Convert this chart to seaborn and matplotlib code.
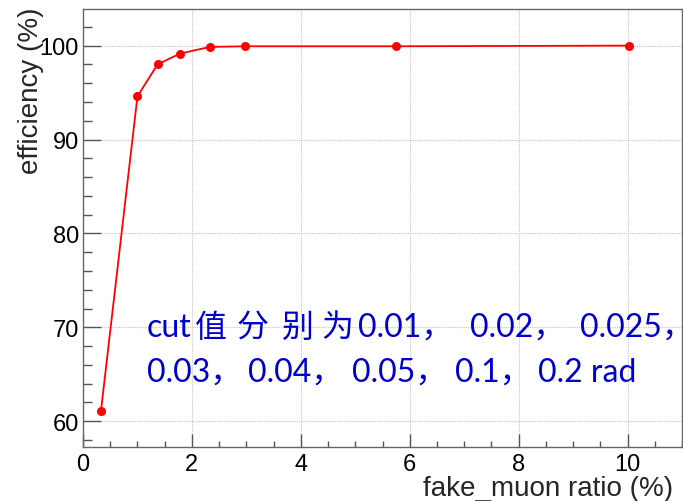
import matplotlib
matplotlib.use("Agg")
import matplotlib.pyplot as plt
from matplotlib.ticker import MultipleLocator
import seaborn as sns
import pandas as pd

# fake-muon ratio (%) and matching efficiency (%) for each angular cut
fake_ratio = [0.33, 1.00, 1.37, 1.78, 2.33, 2.98, 5.74, 10.03]
efficiency = [61.1, 94.6, 98.0, 99.15, 99.86, 99.93, 99.93, 100.0]
cut_values = ["0.01", "0.02", "0.025", "0.03", "0.04", "0.05", "0.1", "0.2"]

df = pd.DataFrame({"fake_ratio": fake_ratio, "efficiency": efficiency})

sns.set_style("white")
plt.rcParams["font.family"] = ["Liberation Sans", "DejaVu Sans"]

W, H = 683, 502
fig = plt.figure(figsize=(W / 100, H / 100), dpi=100)
ax = fig.add_axes([83 / W, 54 / H, 599 / W, 438 / H])

sns.lineplot(data=df, x="fake_ratio", y="efficiency", ax=ax,
             color="#ff0000", linewidth=1.3, marker="o", markersize=6.5,
             markeredgewidth=0, markerfacecolor="#ff0000", zorder=3)

ax.set_xlim(0, 11)
ax.set_ylim(57.25, 103.9)

ax.xaxis.set_major_locator(MultipleLocator(2))
ax.xaxis.set_minor_locator(MultipleLocator(0.5))
ax.yaxis.set_major_locator(MultipleLocator(10))
ax.yaxis.set_minor_locator(MultipleLocator(2))

ax.grid(True, which="major", color="#c4c4c4", linestyle=(0, (1, 1)), linewidth=0.8)
ax.set_axisbelow(True)

ax.tick_params(axis="both", which="both", direction="in", colors="#555555",
               labelcolor="black", labelsize=17, width=1.0,
               bottom=True, left=True, top=False, right=False)
ax.tick_params(axis="y", which="major", length=13, pad=3)
ax.tick_params(axis="y", which="minor", length=6.5)
ax.tick_params(axis="x", which="major", length=9.5, pad=4)
ax.tick_params(axis="x", which="minor", length=4.5)

for side in ["left", "bottom", "top", "right"]:
    ax.spines[side].set_visible(True)
    ax.spines[side].set_color("#666666")
    ax.spines[side].set_linewidth(1.0)

ax.set_xlabel("")
ax.set_ylabel("")
fig.text(673 / W, 1 - 496 / H, "fake_muon ratio (%)", ha="right", va="baseline",
         fontsize=20)
fig.text(31 / W, 1 - 8 / H, "efficiency (%)", ha="center", va="top",
         rotation=90, fontsize=20)

# annotation listing the cut values, laid out piece by piece
txt_font = ["Lato", "Noto Sans CJK SC"]
line1_pieces = ["cut", "值", "分", "别", "为"] + [v + "，" for v in cut_values[:3]]
line1_x = [147, 195, 237, 282, 321, 358, 470, 580]
line2_pieces = [v + "，" for v in cut_values[3:7]] + [cut_values[7] + " rad"]
line2_x = [147, 248, 352, 455, 538]

for pieces, xs, base in [(line1_pieces, line1_x, 337), (line2_pieces, line2_x, 382)]:
    for piece, px in zip(pieces, xs):
        fig.text(px / W, 1 - base / H, piece, ha="left", va="baseline",
                 fontsize=23, color="#0000cc", family=txt_font)

fig.savefig("out.png", dpi=100)
